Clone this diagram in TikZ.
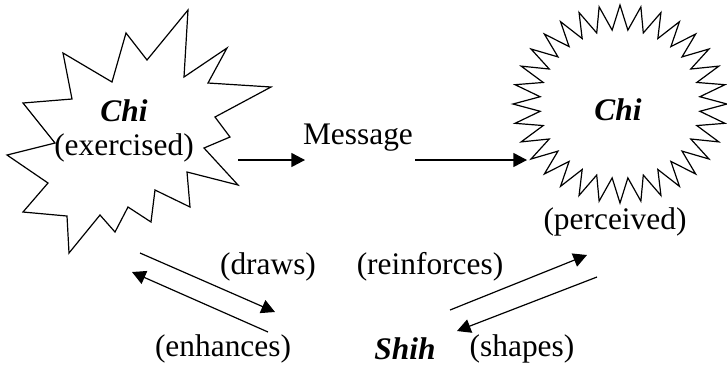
\documentclass[tikz,border=0pt]{standalone}
\usepackage{fontspec}
\setmainfont{Liberation Serif}
\usetikzlibrary{arrows.meta}
\begin{document}
\begin{tikzpicture}
		    [%%%%%%%%%%%%%%%%%%%%%%%%%%%%%%
		        x=0.5pt, y=-0.5pt,
		        lbl/.style={inner sep=0pt, font=\fontsize{15.7}{17}\selectfont},
		        conn/.style={line width=0.6pt, -{Triangle[length=6.8pt,width=7pt]}},
		        burst/.style={line width=0.6pt, line join=miter},
		    ]%%%%%%%%%%%%%%%%%%%%%%%%%%%%%%
		\useasboundingbox (0,0) rectangle (727,366);

		% exercised burst
		\draw[burst] (188,10) -- (184,77) -- (227,48) -- (208,83) -- (271,87)
		    -- (215,117) -- (230,137) -- (204,148) -- (238,185) -- (187,172)
		    -- (190,207) -- (155,190) -- (151,222) -- (128,207) -- (115,232)
		    -- (100,215) -- (69,253) -- (67,216) -- (23,212) -- (48,183)
		    -- (7,155) -- (55,143) -- (23,103) -- (72,99) -- (63,53)
		    -- (112,82) -- (126,33) -- (147,60) -- cycle;
		% perceived star
		\draw[burst] plot[samples=64, domain=0:63, variable=\k]
		    ({620 + 107*(1-0.25*mod(\k,2))*cos(90+5.625*\k)},
		     {104 - 99*(1-0.25*mod(\k,2))*sin(90+5.625*\k)}) -- cycle;

		\node[lbl, align=center] (chiL) at (124,131) {\textbf{\textit{Chi}}\\(exercised)};
		\node[lbl] (msg) at (358,138) {Message};
		\node[lbl] (chiR) at (618,110) {\textbf{\textit{Chi}}};
		\node[lbl] (perc) at (615,222) {(perceived)};

		\node[lbl] (draws) at (268,267) {(draws)};
		\node[lbl] (reinf) at (430,267) {(reinforces)};
		\node[lbl] (enh) at (223,349) {(enhances)};
		\node[lbl] (shih) at (405,349) {\textbf{\textit{Shih}}};
		\node[lbl] (shapes) at (522,349) {(shapes)};

		\coordinate (e1) at (238,160);
		\coordinate (e2) at (305,160);
		\coordinate (m1) at (415,160);
		\coordinate (m2) at (527,160);
		\coordinate (d1) at (140,253);
		\coordinate (d2) at (275,312);
		\coordinate (h1) at (268,332);
		\coordinate (h2) at (132,272);
		\coordinate (r1) at (450,310);
		\coordinate (r2) at (587,255);
		\coordinate (s1) at (597,277);
		\coordinate (s2) at (457,331);

		\draw[conn] (e1) -- (e2);
		\draw[conn] (m1) -- (m2);
		\draw[conn] (d1) -- (d2);
		\draw[conn] (h1) -- (h2);
		\draw[conn] (r1) -- (r2);
		\draw[conn] (s1) -- (s2);
		\end{tikzpicture}
\end{document}
